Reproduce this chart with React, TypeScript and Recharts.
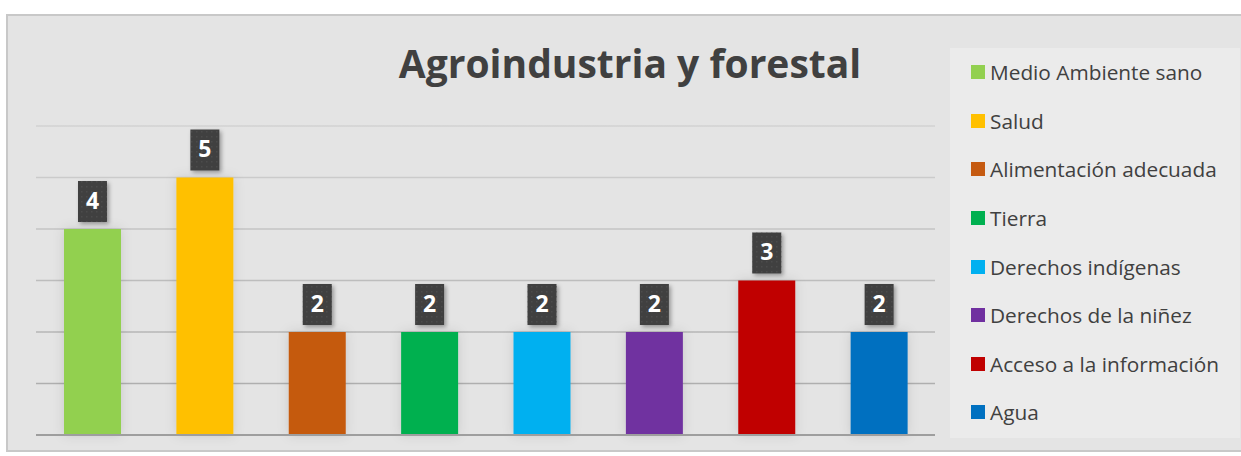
import React from 'react';
import { BarChart, Bar, XAxis, YAxis, CartesianGrid, ReferenceLine, Cell } from 'recharts';

const categories = [
  'Medio Ambiente sano',
  'Salud',
  'Alimentación adecuada',
  'Tierra',
  'Derechos indígenas',
  'Derechos de la niñez',
  'Acceso a la información',
  'Agua'
];
const values = [4, 5, 2, 2, 2, 2, 3, 2];
const colors = ['#92d050', '#ffc000', '#c55a11', '#00b050', '#00b0f0', '#7030a0', '#c00000', '#0070c0'];
const yTicks = [0, 1, 2, 3, 4, 5, 6];

const data = categories.map((name, i) => ({ name, value: values[i] }));

const FONT = '"Open Sans", "DejaVu Sans", sans-serif';

const ValueLabel = (props: any) => {
  const { x, y, width, value } = props;
  const cx = x + width / 2;
  const w = 29;
  const h = 41;
  const top = y - 7 - h;
  return (
    <g>
      <rect x={cx - w / 2} y={top} width={w} height={h} fill="#404040" filter="url(#boxShadow)" />
      <rect x={cx - w / 2} y={top} width={w} height={h} fill="url(#dots)" />
      <text
        x={cx}
        y={top + h / 2 + 1}
        textAnchor="middle"
        dominantBaseline="middle"
        fill="#ffffff"
        fontFamily={FONT}
        fontWeight={700}
        fontSize={23}
      >
        {value}
      </text>
    </g>
  );
};

const LegendBox = () => (
  <div
    style={{
      position: 'absolute',
      left: 950,
      top: 48,
      width: 290,
      height: 390,
      background: '#ebebeb',
      boxSizing: 'border-box',
      paddingTop: 0,
      paddingLeft: 21,
      fontFamily: FONT
    }}
  >
    {categories.map((c, i) => (
      <div key={c} style={{ display: 'flex', alignItems: 'center', height: 48.6 }}>
        <span style={{ width: 14, height: 14, background: colors[i], marginRight: 5, flexShrink: 0 }} />
        <span style={{ fontSize: 20.8, color: '#404040', whiteSpace: 'nowrap' }}>{c}</span>
      </div>
    ))}
  </div>
);

const App: React.FC = () => {
  return (
    <div style={{ position: 'absolute', left: 0, top: 0, width: 1241, height: 456, background: '#ffffff' }}>
      <div
        style={{
          position: 'absolute',
          left: 6,
          top: 14,
          width: 1240,
          height: 438,
          background: '#e4e4e4',
          border: '2px solid #c8c8c8',
          boxSizing: 'border-box'
        }}
      />
      <div
        style={{
          position: 'absolute',
          left: 330,
          width: 600,
          top: 36,
          textAlign: 'center',
          fontFamily: FONT,
          fontWeight: 700,
          fontSize: 39,
          color: '#404040',
          lineHeight: '54px'
        }}
      >
        Agroindustria y forestal
      </div>
      <LegendBox />
      <div style={{ position: 'absolute', left: 0, top: 0 }}>
        <BarChart
          width={1241}
          height={456}
          data={data}
          margin={{ top: 126, right: 306, bottom: 21, left: 36 }}
          barSize={57}
        >
          <defs>
            <linearGradient id="gridGrad" gradientUnits="userSpaceOnUse" x1="0" y1="126" x2="0" y2="435">
              <stop offset="0%" stopColor="#d2d2d2" />
              <stop offset="100%" stopColor="#a8a8a8" />
            </linearGradient>
            <filter id="boxShadow" x="-50%" y="-50%" width="200%" height="200%">
              <feDropShadow dx="2" dy="2" stdDeviation="2" floodColor="#000" floodOpacity="0.35" />
            </filter>
            <filter id="barShadow" x="-50%" y="-20%" width="200%" height="140%">
              <feDropShadow dx="0" dy="0" stdDeviation="6" floodColor="#000" floodOpacity="0.12" />
            </filter>
            <pattern id="dots" width="5" height="5" patternUnits="userSpaceOnUse">
              <rect x="1" y="1" width="1.5" height="1.5" fill="#4c4c4c" />
            </pattern>
          </defs>
          <CartesianGrid horizontal vertical={false} stroke="url(#gridGrad)" strokeWidth={1.5} />
          <XAxis dataKey="name" hide />
          <YAxis hide domain={[0, 6]} ticks={yTicks} />
          <ReferenceLine y={0} stroke="#9e9e9e" strokeWidth={2} />
          <Bar dataKey="value" isAnimationActive={false} label={<ValueLabel />} filter="url(#barShadow)">
            {data.map((d, i) => (
              <Cell key={d.name} fill={colors[i]} />
            ))}
          </Bar>
        </BarChart>
      </div>
    </div>
  );
};

export default App;
